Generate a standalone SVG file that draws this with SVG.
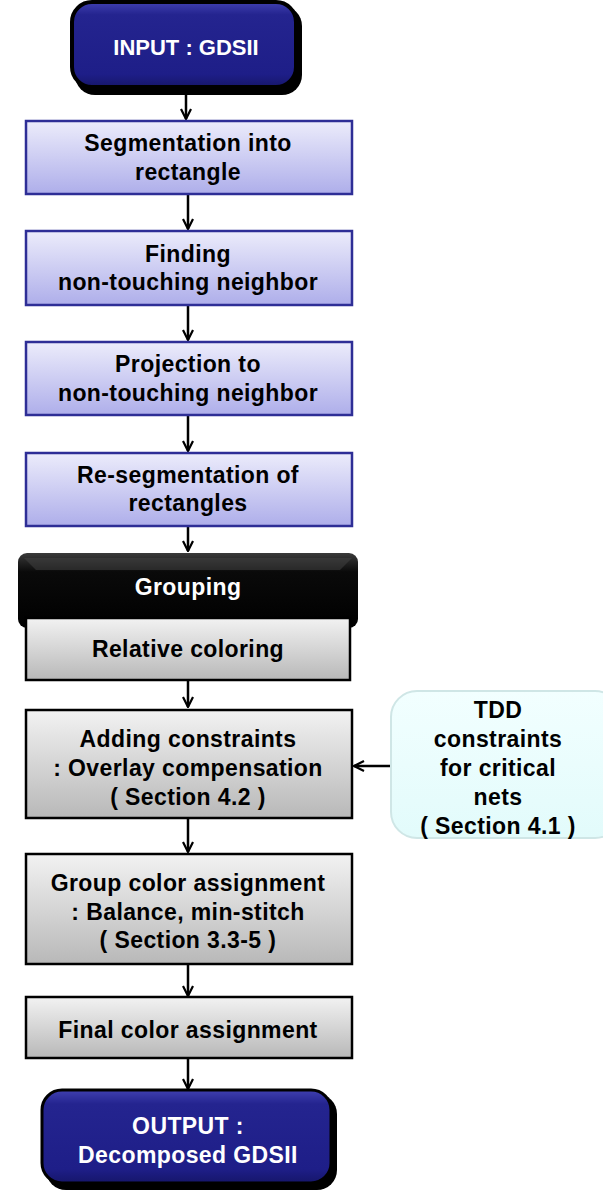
<svg xmlns="http://www.w3.org/2000/svg" width="603" height="1192" viewBox="0 0 603 1192">
  <defs>
    <linearGradient id="gBlueBox" x1="0" y1="0" x2="0" y2="1">
      <stop offset="0" stop-color="#ececfb"/>
      <stop offset="1" stop-color="#aeaeea"/>
    </linearGradient>
    <linearGradient id="gGrayBox" x1="0" y1="0" x2="0" y2="1">
      <stop offset="0" stop-color="#f2f2f2"/>
      <stop offset="1" stop-color="#b8b8b8"/>
    </linearGradient>
    <linearGradient id="gTerm" x1="0" y1="0" x2="0" y2="1">
      <stop offset="0" stop-color="#4040b0"/>
      <stop offset="0.15" stop-color="#24248f"/>
      <stop offset="0.85" stop-color="#1e1e88"/>
      <stop offset="1" stop-color="#16166a"/>
    </linearGradient>
    <linearGradient id="gBlack" x1="0" y1="0" x2="0" y2="1">
      <stop offset="0" stop-color="#3a3a3a"/>
      <stop offset="0.25" stop-color="#0a0a0a"/>
      <stop offset="1" stop-color="#000"/>
    </linearGradient>
    <linearGradient id="gCyan" x1="0" y1="0" x2="0" y2="1">
      <stop offset="0" stop-color="#f2ffff"/>
      <stop offset="1" stop-color="#e2fbfb"/>
    </linearGradient>
    <marker id="arrow" viewBox="0 0 12 12" refX="11" refY="6" markerWidth="12" markerHeight="12" markerUnits="userSpaceOnUse" orient="auto">
      <path d="M1,1 L11,6 L1,11" fill="none" stroke="#000" stroke-width="2.2"/>
    </marker>
  </defs>
  <style>
    text { font-family: "Liberation Sans", Arial, sans-serif; font-weight: bold; font-size: 23px; letter-spacing: 0.4px; text-anchor: middle; }
    .dark { fill: #000; }
    .light { fill: #fff; }
    .title { font-size: 22px; letter-spacing: 0; }
    .step { fill: url(#gBlueBox); stroke: #2e2e96; stroke-width: 2.5; }
    .gray { fill: url(#gGrayBox); stroke: #000; stroke-width: 2.5; }
    .edge { fill: none; stroke: #000; stroke-width: 2.5; marker-end: url(#arrow); }
  </style>

  <g id="connectors">
    <line class="edge" x1="186" y1="92" x2="186" y2="119"/>
    <line class="edge" x1="188" y1="195" x2="188" y2="229"/>
    <line class="edge" x1="188" y1="306" x2="188" y2="340"/>
    <line class="edge" x1="188" y1="416" x2="188" y2="451"/>
    <line class="edge" x1="188" y1="527" x2="188" y2="551"/>
    <line class="edge" x1="188" y1="681" x2="188" y2="707"/>
    <line class="edge" x1="188" y1="819" x2="188" y2="852"/>
    <line class="edge" x1="188" y1="965" x2="188" y2="996"/>
    <line class="edge" x1="188" y1="1059" x2="188" y2="1089"/>
    <line class="edge" x1="391" y1="766" x2="354" y2="766"/>
  </g>

  <g id="input">
    <rect x="75" y="6" width="227" height="89" rx="20" fill="#000"/>
    <rect x="72" y="2" width="224" height="85" rx="20" fill="url(#gTerm)" stroke="#000" stroke-width="4"/>
    <text class="light title" x="186" y="55">INPUT : GDSII</text>
  </g>

  <g id="segmentation">
    <rect class="step" x="26" y="121" width="326" height="73"/>
    <text class="dark" x="188" y="151">Segmentation into</text>
    <text class="dark" x="188" y="180">rectangle</text>
  </g>

  <g id="finding">
    <rect class="step" x="26" y="231" width="326" height="74"/>
    <text class="dark" x="188" y="262">Finding</text>
    <text class="dark" x="188" y="290">non-touching neighbor</text>
  </g>

  <g id="projection">
    <rect class="step" x="26" y="342" width="326" height="73"/>
    <text class="dark" x="188" y="372">Projection to</text>
    <text class="dark" x="188" y="401">non-touching neighbor</text>
  </g>

  <g id="resegmentation">
    <rect class="step" x="26" y="453" width="326" height="73"/>
    <text class="dark" x="188" y="483">Re-segmentation of</text>
    <text class="dark" x="188" y="511">rectangles</text>
  </g>

  <g id="grouping">
    <rect x="18" y="553" width="340" height="75" rx="9" fill="url(#gBlack)"/>
    <path d="M24,558 L352,558 L340,570 L36,570 Z" fill="#444" opacity="0.5"/>
    <text class="light" x="188" y="595">Grouping</text>
  </g>

  <g id="relative-coloring">
    <rect class="gray" x="26" y="618" width="324" height="62"/>
    <text class="dark" x="188" y="657">Relative coloring</text>
  </g>

  <g id="adding-constraints">
    <rect class="gray" x="26" y="710" width="326" height="108"/>
    <text class="dark" x="188" y="747">Adding constraints</text>
    <text class="dark" x="188" y="776">: Overlay compensation</text>
    <text class="dark" x="188" y="805">( Section 4.2 )</text>
  </g>

  <g id="tdd-constraints">
    <rect x="391" y="691" width="230" height="147" rx="26" fill="url(#gCyan)" stroke="#cfe6e6" stroke-width="2"/>
    <text class="dark" x="498" y="718">TDD</text>
    <text class="dark" x="498" y="747">constraints</text>
    <text class="dark" x="498" y="776">for critical</text>
    <text class="dark" x="498" y="805">nets</text>
    <text class="dark" x="498" y="834">( Section 4.1 )</text>
  </g>

  <g id="group-color">
    <rect class="gray" x="26" y="854" width="326" height="110"/>
    <text class="dark" x="188" y="891">Group color assignment</text>
    <text class="dark" x="188" y="920">: Balance, min-stitch</text>
    <text class="dark" x="188" y="948">( Section 3.3-5 )</text>
  </g>

  <g id="final-color">
    <rect class="gray" x="26" y="997" width="326" height="61"/>
    <text class="dark" x="188" y="1038">Final color assignment</text>
  </g>

  <g id="output">
    <rect x="46" y="1094" width="291" height="96" rx="20" fill="#000"/>
    <rect x="42" y="1090" width="289" height="93" rx="20" fill="url(#gTerm)" stroke="#000" stroke-width="3"/>
    <text class="light" x="188" y="1134">OUTPUT :</text>
    <text class="light" x="188" y="1163">Decomposed GDSII</text>
  </g>
</svg>
